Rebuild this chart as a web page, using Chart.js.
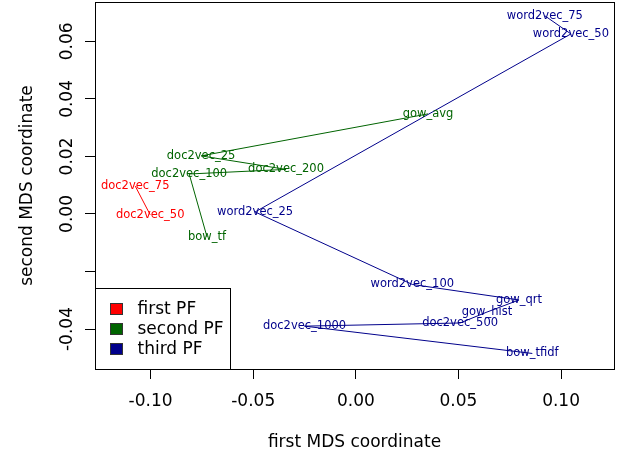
<!DOCTYPE html>
<html>
<head>
<meta charset="utf-8">
<script src="https://cdn.jsdelivr.net/npm/chart.js@4.4.1/dist/chart.umd.min.js"></script>
<style>
  html, body { margin: 0; padding: 0; background: #fff; }
  canvas { display: block; }
</style>
</head>
<body>
<canvas id="mds" width="640" height="467"></canvas>
<script>
// MDS coordinates, points listed in the order they are joined
var firstNames = ["doc2vec_75", "doc2vec_50"];
var firstX = [-0.1075, -0.1002];
var firstY = [0.0097, -0.0003];

var secondNames = ["gow_avg", "doc2vec_25", "doc2vec_200", "doc2vec_100", "bow_tf"];
var secondX = [0.0352, -0.0754, -0.0340, -0.0812, -0.0725];
var secondY = [0.0348, 0.0202, 0.0155, 0.0139, -0.0080];

var thirdNames = ["word2vec_75", "word2vec_50", "word2vec_25", "word2vec_100", "gow_qrt",
                  "gow_hist", "doc2vec_500", "doc2vec_1000", "bow_tfidf"];
var thirdX = [0.0921, 0.1048, -0.0491, 0.0275, 0.0795, 0.0639, 0.0508, -0.0250, 0.0860];
var thirdY = [0.0689, 0.0626, 0.0007, -0.0245, -0.0299, -0.0341, -0.0379, -0.0390, -0.0485];

var groupNames = ["first PF", "second PF", "third PF"];
var groupColors = ["#ff0000", "#006400", "#00008b"];

// axis ticks
var xTickValues = [-0.10, -0.05, 0.00, 0.05, 0.10];
var xTickLabels = ["-0.10", "-0.05", "0.00", "0.05", "0.10"];
var yTickValues = [-0.04, -0.02, 0.00, 0.02, 0.04, 0.06];
var yTickLabels = ["-0.04", "", "0.00", "0.02", "0.04", "0.06"];

var FONT = "DejaVu Sans";

function pts(xs, ys) {
  return xs.map(function (x, i) { return {x: x, y: ys[i]}; });
}

var allNames = [firstNames, secondNames, thirdNames];

// labels written at each point, plus the box round the plot
var labelPlugin = {
  id: "pointLabels",
  afterDatasetsDraw: function (chart) {
    var ctx = chart.ctx;
    var a = chart.chartArea;
    ctx.save();
    ctx.strokeStyle = "#000";
    ctx.lineWidth = 1;
    ctx.strokeRect(Math.round(a.left) + 0.5, Math.round(a.top) + 0.5,
                   Math.round(a.right - a.left), Math.round(a.bottom - a.top));
    ctx.font = "11.5px '" + FONT + "'";
    ctx.textAlign = "center";
    ctx.textBaseline = "middle";
    chart.data.datasets.forEach(function (ds, di) {
      var meta = chart.getDatasetMeta(di);
      ctx.fillStyle = ds.borderColor;
      meta.data.forEach(function (el, i) {
        ctx.fillText(allNames[di][i], el.x, el.y);
      });
    });
    ctx.restore();
  }
};

// R style legend box in the bottom-left corner
var legendPlugin = {
  id: "rLegend",
  afterDraw: function (chart) {
    var ctx = chart.ctx;
    var a = chart.chartArea;
    var left = Math.round(a.left) + 0.5, bottom = Math.round(a.bottom) + 0.5;
    var w = 135, h = 81;
    ctx.save();
    ctx.fillStyle = "#fff";
    ctx.fillRect(left, bottom - h, w, h);
    ctx.strokeStyle = "#000";
    ctx.lineWidth = 1;
    ctx.strokeRect(left, bottom - h, w, h);
    ctx.font = "17px '" + FONT + "'";
    ctx.textAlign = "left";
    ctx.textBaseline = "middle";
    groupNames.forEach(function (name, i) {
      var cy = bottom - h + 21 + i * 20;
      ctx.fillStyle = groupColors[i];
      ctx.fillRect(left + 15, cy - 6, 12, 11);
      ctx.strokeStyle = "#333";
      ctx.strokeRect(left + 15, cy - 6, 12, 11);
      ctx.fillStyle = "#000";
      ctx.fillText(name, left + 42, cy);
    });
    ctx.restore();
  }
};

function lineSet(xs, ys, color) {
  return {
    data: pts(xs, ys),
    showLine: true,
    borderColor: color,
    backgroundColor: color,
    borderWidth: 1,
    pointRadius: 0,
    pointHoverRadius: 0,
    tension: 0
  };
}

new Chart(document.getElementById("mds"), {
  type: "scatter",
  data: {
    datasets: [
      lineSet(firstX, firstY, groupColors[0]),
      lineSet(secondX, secondY, groupColors[1]),
      lineSet(thirdX, thirdY, groupColors[2])
    ]
  },
  options: {
    responsive: false,
    animation: false,
    devicePixelRatio: 1,
    layout: {padding: {left: 0, top: 2, right: 26, bottom: 0}},
    plugins: {legend: {display: false}, tooltip: {enabled: false}},
    scales: {
      x: {
        type: "linear",
        min: -0.1271,
        max: 0.1258,
        afterBuildTicks: function (s) { s.ticks = xTickValues.map(function (v) { return {value: v}; }); },
        afterFit: function (s) { s.height = 98; s.paddingLeft = 0; s.paddingRight = 0; },
        ticks: {
          color: "#000",
          padding: 12,
          maxRotation: 0,
          font: {family: FONT, size: 17},
          callback: function (v, i) { return xTickLabels[i]; }
        },
        grid: {display: true, drawOnChartArea: false, drawTicks: true, tickLength: 10, tickColor: "#000"},
        border: {display: true, color: "#000"},
        title: {display: true, text: "first MDS coordinate", color: "#000",
                font: {family: FONT, size: 17}, padding: {top: 4, bottom: 14}}
      },
      y: {
        type: "linear",
        min: -0.0539,
        max: 0.0737,
        afterBuildTicks: function (s) { s.ticks = yTickValues.map(function (v) { return {value: v}; }); },
        afterFit: function (s) { s.width = 95; s.paddingTop = 0; s.paddingBottom = 0; },
        ticks: {
          color: "#000",
          padding: -5,
          minRotation: 90,
          maxRotation: 90,
          crossAlign: "center",
          font: {family: FONT, size: 17},
          callback: function (v, i) { return yTickLabels[i]; }
        },
        grid: {display: true, drawOnChartArea: false, drawTicks: true, tickLength: 10, tickColor: "#000"},
        border: {display: true, color: "#000"},
        title: {display: true, text: "second MDS coordinate", color: "#000",
                font: {family: FONT, size: 17}, padding: {top: 17, bottom: 4}}
      }
    }
  },
  plugins: [labelPlugin, legendPlugin]
});
</script>
</body>
</html>
